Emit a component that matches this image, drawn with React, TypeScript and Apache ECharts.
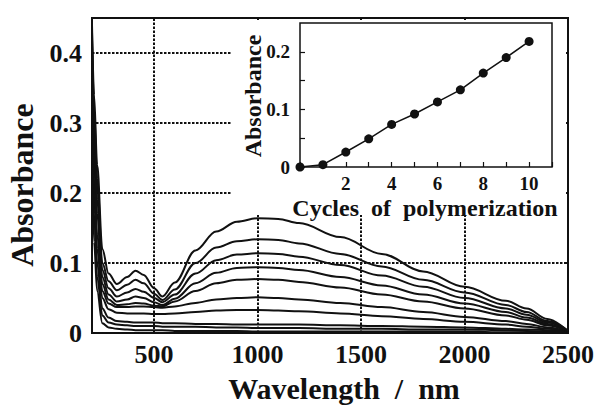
import React, { useEffect, useRef } from "react";
import * as echarts from "echarts";

// Main spectra: wavelength grid (nm) and absorbance for each polymerization cycle
const WAVELENGTHS = [200, 210, 225, 250, 280, 320, 370, 410, 450, 500, 540, 600, 700, 800, 900, 1000, 1100, 1200, 1400, 1600, 1800, 2000, 2200, 2300, 2400, 2500];
const SPEC_C1 = [0.26, 0.13, 0.06, 0.014, 0.008, 0.006, 0.005, 0.004, 0.004, 0.004, 0.004, 0.003, 0.003, 0.003, 0.003, 0.002, 0.002, 0.002, 0.002, 0.002, 0.002, 0.002, 0.001, 0.001, 0.001, 0.001];
const SPEC_C2 = [0.3, 0.17, 0.08, 0.025, 0.015, 0.012, 0.011, 0.01, 0.01, 0.01, 0.009, 0.009, 0.009, 0.008, 0.008, 0.007, 0.007, 0.007, 0.006, 0.006, 0.005, 0.005, 0.004, 0.003, 0.002, 0.001];
const SPEC_C3 = [0.34, 0.2, 0.1, 0.035, 0.022, 0.017, 0.016, 0.015, 0.015, 0.015, 0.014, 0.014, 0.013, 0.013, 0.012, 0.012, 0.012, 0.012, 0.011, 0.01, 0.009, 0.008, 0.006, 0.005, 0.004, 0.001];
const SPEC_C4 = [0.36, 0.22, 0.12, 0.05, 0.034, 0.029, 0.028, 0.028, 0.028, 0.027, 0.027, 0.028, 0.03, 0.032, 0.033, 0.033, 0.032, 0.031, 0.028, 0.024, 0.02, 0.016, 0.012, 0.009, 0.006, 0.001];
const SPEC_C5 = [0.38, 0.25, 0.14, 0.06, 0.042, 0.037, 0.037, 0.038, 0.038, 0.037, 0.036, 0.038, 0.043, 0.048, 0.05, 0.051, 0.05, 0.048, 0.043, 0.037, 0.03, 0.023, 0.017, 0.013, 0.008, 0.002];
const SPEC_C6 = [0.4, 0.27, 0.17, 0.07, 0.048, 0.04, 0.041, 0.043, 0.042, 0.039, 0.038, 0.045, 0.06, 0.071, 0.076, 0.077, 0.076, 0.073, 0.065, 0.055, 0.045, 0.035, 0.025, 0.019, 0.011, 0.002];
const SPEC_C7 = [0.41, 0.29, 0.19, 0.08, 0.055, 0.045, 0.048, 0.052, 0.05, 0.044, 0.04, 0.049, 0.071, 0.086, 0.093, 0.094, 0.093, 0.09, 0.08, 0.068, 0.055, 0.042, 0.03, 0.022, 0.013, 0.002];
const SPEC_C8 = [0.42, 0.31, 0.21, 0.09, 0.064, 0.052, 0.058, 0.063, 0.059, 0.05, 0.044, 0.055, 0.085, 0.104, 0.112, 0.114, 0.113, 0.109, 0.097, 0.082, 0.066, 0.05, 0.035, 0.026, 0.015, 0.003];
const SPEC_C9 = [0.43, 0.32, 0.22, 0.1, 0.074, 0.061, 0.069, 0.076, 0.071, 0.056, 0.047, 0.062, 0.1, 0.122, 0.131, 0.134, 0.133, 0.128, 0.113, 0.095, 0.076, 0.058, 0.04, 0.03, 0.017, 0.003];
const SPEC_C10 = [0.44, 0.34, 0.24, 0.12, 0.085, 0.07, 0.08, 0.089, 0.083, 0.064, 0.052, 0.072, 0.118, 0.145, 0.159, 0.164, 0.163, 0.157, 0.137, 0.113, 0.088, 0.066, 0.046, 0.035, 0.02, 0.003];
const SPECTRA = [SPEC_C1, SPEC_C2, SPEC_C3, SPEC_C4, SPEC_C5, SPEC_C6, SPEC_C7, SPEC_C8, SPEC_C9, SPEC_C10];

// Main axis ticks
const MAIN_X_LABELS = [500, 1000, 1500, 2000, 2500];
const MAIN_X_GRID = [500, 1000, 1500, 2000];
const MAIN_Y_LABELS = [0, 0.1, 0.2, 0.3, 0.4];

// Inset: absorbance vs. cycles
const CYCLES = [0, 1, 2, 3, 4, 5, 6, 7, 8, 9, 10];
const INSET_ABS = [0.0, 0.004, 0.026, 0.049, 0.074, 0.092, 0.113, 0.134, 0.163, 0.19, 0.218];
const INSET_X_LABELS = [2, 4, 6, 8, 10];
const INSET_Y_LABELS = [0, 0.1, 0.2];

const FONT = "'Liberation Serif', 'Times New Roman', serif";
const INK = "#111";

export default function App() {
  const ref = useRef<HTMLDivElement>(null);

  useEffect(() => {
    if (!ref.current) return;
    const chart = echarts.init(ref.current, undefined, { renderer: "svg" });
    const dotted = [2.5, 1.5];
    const near = (v: number, list: number[]) => list.some((t) => Math.abs(t - v) < 1e-6);

    const mainSeries: any[] = SPECTRA.map((s, i) => ({
      type: "line",
      xAxisIndex: 0,
      yAxisIndex: 0,
      data: WAVELENGTHS.map((w, j) => [w, s[j]]),
      showSymbol: false,
      smooth: 0.35,
      smoothMonotone: "x",
      lineStyle: { color: INK, width: 2 },
      z: 2,
      silent: true,
      markLine:
        i === 0
          ? {
              silent: true,
              symbol: ["none", "none"],
              label: { show: false },
              lineStyle: { color: INK, type: dotted, width: 2 },
              data: MAIN_X_GRID.map((v) => ({ xAxis: v })),
              z: 1,
            }
          : undefined,
    }));

    const option: any = {
      animation: false,
      backgroundColor: "#fff",
      grid: [
        {
          left: 92,
          top: 18,
          width: 476,
          height: 315,
          show: true,
          borderColor: INK,
          borderWidth: 2,
          z: 0,
        },
        {
          left: 300,
          top: 23,
          width: 252,
          height: 144,
          show: true,
          borderColor: INK,
          borderWidth: 1.5,
          z: 10,
        },
      ],
      xAxis: [
        {
          type: "value",
          gridIndex: 0,
          min: 200,
          max: 2500,
          interval: 100,
          axisLine: { show: false },
          axisTick: { show: false },
          splitLine: { show: false },
          axisLabel: {
            margin: 8,
            color: INK,
            fontFamily: FONT,
            fontWeight: "bold",
            fontSize: 26,
            lineHeight: 26,
            formatter: (v: number) => (near(v, MAIN_X_LABELS) ? String(v) : ""),
          },
          z: 0,
        },
        {
          type: "value",
          gridIndex: 1,
          min: 0,
          max: 11,
          interval: 1,
          axisLine: { show: false },
          axisTick: { show: true, inside: true, length: 5, lineStyle: { color: INK, width: 1.2 } },
          splitLine: { show: false },
          axisLabel: {
            margin: 7,
            color: INK,
            fontFamily: FONT,
            fontWeight: "bold",
            fontSize: 19,
            formatter: (v: number) => (near(v, INSET_X_LABELS) ? String(v) : ""),
          },
          z: 10,
        },
      ],
      yAxis: [
        {
          type: "value",
          gridIndex: 0,
          min: 0,
          max: 0.45,
          interval: 0.1,
          axisLine: { show: false },
          axisTick: { show: false },
          splitLine: { show: true, lineStyle: { color: INK, type: dotted, width: 2 } },
          axisLabel: {
            showMaxLabel: false,
            margin: 10,
            color: INK,
            fontFamily: FONT,
            fontWeight: "bold",
            fontSize: 26,
            formatter: (v: number) => (near(v, MAIN_Y_LABELS) ? String(Math.round(v * 10) / 10) : ""),
          },
          z: 0,
        },
        {
          type: "value",
          gridIndex: 0,
          position: "right",
          min: 0,
          max: 0.45,
          interval: 0.1,
          axisLine: { show: false },
          axisTick: { show: true, inside: true, length: 4, lineStyle: { color: INK, width: 2 } },
          splitLine: { show: false },
          axisLabel: { show: false },
          z: 0,
        },
        {
          type: "value",
          gridIndex: 1,
          min: 0,
          max: 0.25,
          interval: 0.05,
          axisLine: { show: false },
          axisTick: { show: true, inside: true, length: 5, lineStyle: { color: INK, width: 1.2 } },
          splitLine: { show: false },
          axisLabel: {
            showMaxLabel: false,
            margin: 10,
            color: INK,
            fontFamily: FONT,
            fontWeight: "bold",
            fontSize: 19,
            formatter: (v: number) => (near(v, INSET_Y_LABELS) ? String(Math.round(v * 10) / 10) : ""),
          },
          z: 10,
        },
      ],
      graphic: {
        elements: [
          {
            type: "rect",
            z: 5,
            shape: { x: 231, y: 20, width: 335, height: 195 },
            style: { fill: "#fff" },
            silent: true,
          },
          {
            type: "text",
            z: 12,
            x: 22,
            y: 185,
            rotation: Math.PI / 2,
            style: {
              text: "Absorbance",
              fill: INK,
              font: `bold 32px ${FONT}`,
              textAlign: "center",
              textVerticalAlign: "middle",
            },
          },
          {
            type: "text",
            z: 12,
            x: 344,
            y: 388,
            style: {
              text: "Wavelength  /  nm",
              fill: INK,
              font: `bold 30px ${FONT}`,
              lineHeight: 30,
              textAlign: "center",
              textVerticalAlign: "middle",
            },
          },
          {
            type: "text",
            z: 12,
            x: 253,
            y: 96,
            rotation: Math.PI / 2,
            style: {
              text: "Absorbance",
              fill: INK,
              font: `bold 24px ${FONT}`,
              textAlign: "center",
              textVerticalAlign: "middle",
            },
          },
          {
            type: "text",
            z: 12,
            x: 425,
            y: 208,
            style: {
              text: "Cycles  of  polymerization",
              fill: INK,
              font: `bold 24px ${FONT}`,
              textAlign: "center",
              textVerticalAlign: "middle",
            },
          },
        ],
      },
      series: [
        ...mainSeries,
        {
          type: "line",
          xAxisIndex: 1,
          yAxisIndex: 2,
          data: CYCLES.map((c, i) => [c, INSET_ABS[i]]),
          symbol: "circle",
          symbolSize: 9,
          showSymbol: true,
          clip: false,
          itemStyle: { color: INK },
          lineStyle: { color: INK, width: 1.5 },
          z: 11,
          silent: true,
        },
      ],
    };

    chart.setOption(option);
    return () => chart.dispose();
  }, []);

  return (
    <div
      ref={ref}
      style={{ position: "fixed", left: 0, top: 0, width: 602, height: 405, background: "#fff" }}
    />
  );
}
